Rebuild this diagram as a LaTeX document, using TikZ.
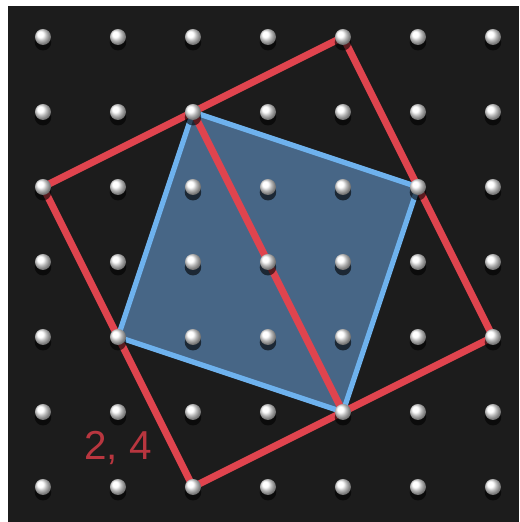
\documentclass[tikz,border=0pt]{standalone}
\usepackage{fontspec}
\setsansfont{Liberation Sans}
\usepackage{tikz}
\usepackage{xcolor}
\usetikzlibrary{shapes, arrows.meta, positioning, backgrounds}
\definecolor{boardblack}{HTML}{1C1C1C}
\definecolor{bandred}{HTML}{E0444E}
\definecolor{bandblue}{HTML}{6EB2EE}
\definecolor{fillblue}{HTML}{4F7399}
\definecolor{lblred}{HTML}{B8363F}

\begin{document}
\begin{tikzpicture}[x=1.5cm, y=1.5cm,
    peg/.style={circle, inner sep=0pt, minimum size=0.32cm, shading=ball, ball color=white},
    redband/.style={draw=bandred, line width=4pt, line join=round},
    blueband/.style={draw=bandblue, line width=3pt, line join=round}]
\useasboundingbox (-0.573, -0.467) rectangle (6.347, 6.493);
\fill[boardblack] (-0.467, -0.467) rectangle (6.347, 6.413);
% pegs (placed first so the bands can use their names)
\foreach \i in {0,...,6}
  \foreach \j in {0,...,6}
    \coordinate (p\i\j) at (\i, \j);
% blue square
\fill[fillblue, opacity=0.85] (p25) -- (p54) -- (p41) -- (p12) -- cycle;
% red square and diagonal
\draw[redband] (p46) -- (p62) -- (p20) -- (p04) -- cycle;
\draw[blueband] (p25) -- (p54) -- (p41) -- (p12) -- cycle;
\draw[redband] (p25) -- (p41);
\foreach \i in {0,...,6}
  \foreach \j in {0,...,6}
  {
    \fill[black, opacity=0.6] (\i, \j-0.07) circle (0.11);
    \node[peg] (n\i\j) at (p\i\j) {};
  }
\node[font=\sffamily\fontsize{23}{23}\selectfont, text=lblred] (lbl) at (1.0, 0.52) {2, 4};
\end{tikzpicture}
\end{document}
